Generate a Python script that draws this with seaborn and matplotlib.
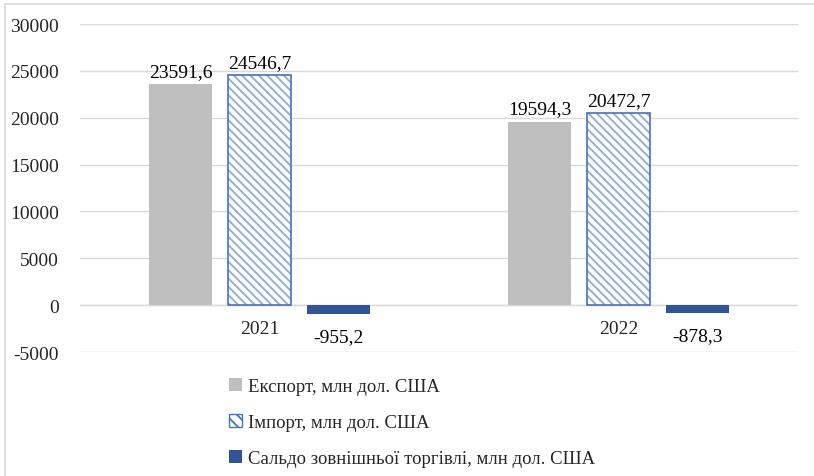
import matplotlib
matplotlib.use("Agg")
import matplotlib.pyplot as plt
import seaborn as sns
import pandas as pd
from matplotlib.patches import Patch, Rectangle

years = ["2021", "2022"]
series = ["Експорт, млн дол. США", "Імпорт, млн дол. США",
          "Сальдо зовнішньої торгівлі, млн дол. США"]
export_vals = [23591.6, 19594.3]
import_vals = [24546.7, 20472.7]
balance_vals = [-955.2, -878.3]
yticks = [-5000, 0, 5000, 10000, 15000, 20000, 25000, 30000]

sns.set_theme(style="white")
plt.rcParams['font.family'] = ['Liberation Serif', 'DejaVu Serif']
plt.rcParams['hatch.linewidth'] = 1.3

rows = []
for s, vals in zip(series, [export_vals, import_vals, balance_vals]):
    for y, v in zip(years, vals):
        rows.append({"year": y, "series": s, "value": v})
df = pd.DataFrame(rows)

colors = ["#BFBFBF", "white", "#2F5597"]
FS = 14

fig = plt.figure(figsize=(8.14, 4.77), dpi=100)
ax = fig.add_axes([80/814, 1-353/477, 718/814, 328/477])

sns.barplot(data=df, x="year", y="value", hue="series", hue_order=series,
            order=years, palette=colors, width=0.658, gap=0.2,
            saturation=1, legend=False, ax=ax, errorbar=None)

for i, container in enumerate(ax.containers):
    for bar in container:
        bar.set_linewidth(0)
        if i == 1:
            bar.set_hatch("\\\\\\\\")
            bar.set_edgecolor("#8FAADC")
            bar.set_facecolor("white")
    if i == 1:
        for bar in container:
            r = Rectangle(bar.get_xy(), bar.get_width(), bar.get_height(),
                          fill=False, edgecolor="#4472C4", linewidth=1.2, zorder=3)
            ax.add_patch(r)

fmt = lambda v: f"{v:.1f}".replace(".", ",")
for i, container in enumerate(ax.containers):
    labels = [fmt(b.get_height()) for b in container]
    pad = 10 if i == 2 else 3
    ax.bar_label(container, labels=labels, padding=pad, fontsize=FS, color="#000000")

ax.set_ylim(-5000, 30000)
ax.set_xlim(-0.5, 1.5)
ax.set_yticks(yticks)
ax.set_yticklabels([str(t) for t in yticks], fontsize=FS)
ax.tick_params(axis="y", length=0, pad=15)
ax.set_xticks([])
ax.set_xlabel("")
ax.set_ylabel("")
ax.grid(axis="y", color="#D9D9D9", linewidth=1)
ax.set_axisbelow(True)
for sp in ax.spines.values():
    sp.set_visible(False)
ax.axhline(0, color="#D9D9D9", linewidth=1, zorder=0.5)

for i, y in enumerate(years):
    ax.annotate(y, xy=(i, 0), xytext=(0, -11), textcoords="offset points",
                ha="center", va="top", fontsize=FS)

handles = [Patch(facecolor="#BFBFBF", edgecolor="none"),
           Patch(facecolor="white", edgecolor="#4472C4", hatch="\\\\\\"),
           Patch(facecolor="#2F5597", edgecolor="none")]
fig.legend(handles, series, loc="upper left", bbox_to_anchor=(229/814, 1-379/477),
           frameon=False, fontsize=13.5, handlelength=0.7, handleheight=0.7,
           handletextpad=0.3, labelspacing=1.0, borderaxespad=0, borderpad=0)

fig.patches.append(Rectangle((5/814, -0.1), 2, 1.1 - 5/477,
                             transform=fig.transFigure, fill=False,
                             edgecolor="#D9D9D9", linewidth=1.2))

fig.savefig("out.png", dpi=100)
